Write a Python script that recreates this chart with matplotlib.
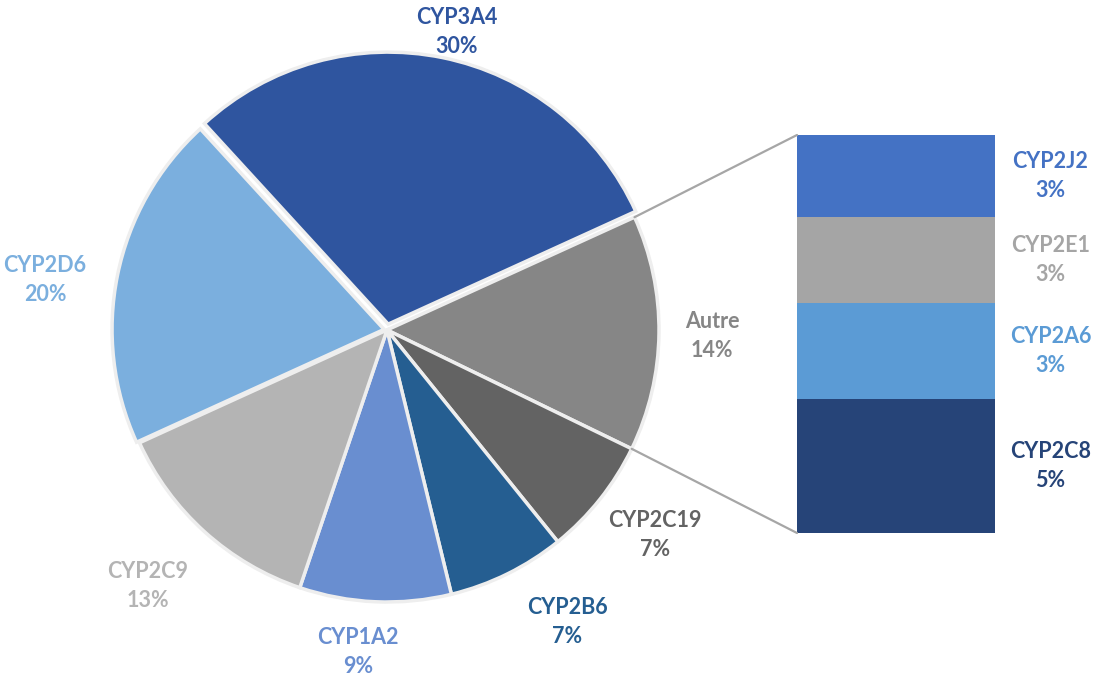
import matplotlib.pyplot as plt
from matplotlib.patches import ConnectionPatch
import numpy as np

plt.rcParams['font.family'] = ['Lato', 'DejaVu Sans']

# ── Data ──────────────────────────────────────────────────────────────────────
pie_labels = ["CYP3A4", "Autre", "CYP2C19", "CYP2B6", "CYP1A2", "CYP2C9", "CYP2D6"]
pie_values = [30, 14, 7, 7, 9, 13, 20]
pie_colors = ["#2F559F", "#868686", "#636363", "#255E91", "#698ED0", "#B4B4B4", "#7BAFDE"]

bar_labels = ["CYP2J2", "CYP2E1", "CYP2A6", "CYP2C8"]      # top -> bottom
bar_values = [2.9, 3.0, 3.4, 4.7]
bar_shown = [3, 3, 3, 5]
bar_colors = ["#4472C4", "#A5A5A5", "#5B9BD5", "#264478"]

# label anchor positions for the pie (pixels from top-left)
pie_label_pos = {
    "CYP3A4": (457, 32), "Autre": (712, 336), "CYP2C19": (655, 535),
    "CYP2B6": (567, 622), "CYP1A2": (358, 652), "CYP2C9": (148, 586),
    "CYP2D6": (45, 280),
}

W, H = 1097, 678
fig = plt.figure(figsize=(W / 100, H / 100), dpi=100)
fig.patch.set_facecolor("white")

# ── Pie (axes in pixel units) ─────────────────────────────────────────────────
ax = fig.add_axes([0, 0, 1, 1])
explode = [6, 0, 0, 0, 0, 0, 3]
wedges, _ = ax.pie(pie_values, colors=pie_colors, startangle=132.5, counterclock=False,
                   center=(387, H - 330), radius=272, explode=explode,
                   wedgeprops=dict(edgecolor="#EEEEEE", linewidth=2.5), frame=True)
ax.set_xlim(0, W)
ax.set_ylim(0, H)
ax.set_aspect("equal")
ax.axis("off")

for lab, val, col in zip(pie_labels, pie_values, pie_colors):
    px, py = pie_label_pos[lab]
    ax.text(px, H - py, f"{lab}\n{val}%", ha="center", va="center", color=col,
            fontsize=15.5, fontweight="bold", linespacing=1.5)

# ── Bar of "Autre" ────────────────────────────────────────────────────────────
bx0, by0, bx1, by1 = 797, 135, 995, 533
ax_bar = fig.add_axes([bx0 / W, 1 - by1 / H, (bx1 - bx0) / W, (by1 - by0) / H])
total = sum(bar_values)
bottom = total
for lab, val, shown, col in zip(bar_labels, bar_values, bar_shown, bar_colors):
    bottom -= val
    ax_bar.bar(0, val, bottom=bottom, width=1, color=col, edgecolor="none")
    ax_bar.text(0.78, bottom + val / 2, f"{lab}\n{shown}%", ha="center", va="center",
                color=col, fontsize=15.5, fontweight="bold", linespacing=1.5,
                clip_on=False)
ax_bar.set_xlim(-0.5, 0.5)
ax_bar.set_ylim(0, total)
ax_bar.axis("off")

# ── Connector lines ───────────────────────────────────────────────────────────
w = wedges[pie_labels.index("Autre")]
cx, cy = w.center
r = w.r
for theta, ybar in [(w.theta2, total), (w.theta1, 0)]:
    xa = cx + r * np.cos(np.radians(theta))
    ya = cy + r * np.sin(np.radians(theta))
    con = ConnectionPatch(xyA=(-0.5, ybar), coordsA=ax_bar.transData,
                          xyB=(xa, ya), coordsB=ax.transData,
                          color="#A6A6A6", linewidth=1.6)
    fig.add_artist(con)

plt.savefig("out.png", dpi=100, facecolor=fig.get_facecolor())
